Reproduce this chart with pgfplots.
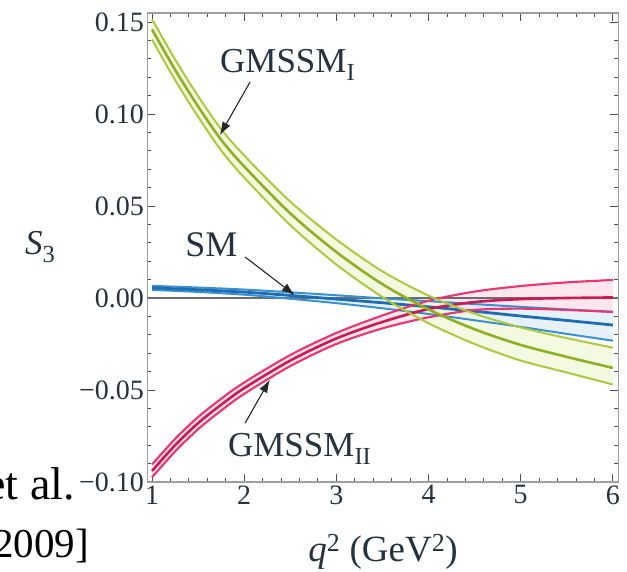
\documentclass[border=0pt]{standalone}
\usepackage{fontspec}
\setmainfont{Liberation Serif}
\usepackage{pgfplots}
\usepackage{pgfplotstable}
\pgfplotsset{compat=1.18}
\usepgfplotslibrary{fillbetween}
\usetikzlibrary{arrows.meta}
\definecolor{gedge}{HTML}{AEC83E}
\definecolor{gcen}{HTML}{90AF22}
\definecolor{gfill}{HTML}{F1F7DA}
\definecolor{bedge}{HTML}{3A90D0}
\definecolor{bcen}{HTML}{1C6DB2}
\definecolor{bfill}{HTML}{E0EEF9}
\definecolor{pedge}{HTML}{EB3470}
\definecolor{pcen}{HTML}{CC1A52}
\definecolor{pfill}{HTML}{FDE0EA}
\definecolor{tickc}{HTML}{26323E}

\pgfplotstableread{
x c u l
1.00 0.1460 0.1515 0.1405
1.25 0.1241 0.1297 0.1185
1.50 0.1041 0.1097 0.0985
1.75 0.0860 0.0918 0.0802
2.00 0.0715 0.0775 0.0655
2.50 0.0460 0.0524 0.0396
3.00 0.0250 0.0318 0.0182
3.50 0.0075 0.0145 0.0005
4.00 -0.0062 0.0013 -0.0137
4.50 -0.0170 -0.0085 -0.0250
5.00 -0.0255 -0.0160 -0.0340
5.50 -0.0320 -0.0218 -0.0405
6.00 -0.0380 -0.0270 -0.0470
}\gmI

\pgfplotstableread{
x c u l
1.00 0.0055 0.0066 0.0044
1.50 0.0045 0.0057 0.0033
2.00 0.0032 0.0046 0.0018
2.50 0.0014 0.0031 -0.0004
3.00 -0.0006 0.0015 -0.0028
3.50 -0.0026 -0.0002 -0.0056
4.00 -0.0048 -0.0017 -0.0087
4.50 -0.0072 -0.0033 -0.0121
5.00 -0.0098 -0.0048 -0.0157
5.50 -0.0122 -0.0062 -0.0195
6.00 -0.0147 -0.0075 -0.0232
}\sm

\pgfplotstableread{
x c u l
1.00 -0.0940 -0.0905 -0.0975
1.25 -0.0800 -0.0766 -0.0834
1.50 -0.0680 -0.0647 -0.0713
1.75 -0.0580 -0.0548 -0.0612
2.00 -0.0490 -0.0459 -0.0521
2.50 -0.0340 -0.0310 -0.0370
3.00 -0.0220 -0.0190 -0.0250
3.50 -0.0130 -0.0095 -0.0165
4.00 -0.0060 -0.0015 -0.0105
4.50 -0.0022 0.0035 -0.0065
5.00 -0.0006 0.0065 -0.0058
5.50 0.0000 0.0085 -0.0065
6.00 0.0003 0.0098 -0.0076
}\gmII

\begin{document}
\begin{tikzpicture}
\begin{axis}[
  at={(147.4pt,89pt)}, anchor=south west,
  scale only axis, width=471pt, height=469pt,
  xmin=0.95, xmax=6.06, ymin=-0.10, ymax=0.1549,
  xtick={1,2,3,4,5,6},
  ytick={-0.10,-0.05,0,0.05,0.10,0.15},
  yticklabels={−0.10,−0.05,0.00,0.05,0.10,0.15},
  minor x tick num=4, minor y tick num=4,
  tick align=inside,
  major tick length=8pt, minor tick length=4pt,
  axis line style={draw=gray!75, line width=1.5pt},
  every tick/.style={draw=gray!60!black, line width=0.9pt},
  tick label style={font=\fontsize{28}{30}\selectfont, text=tickc},
  /pgf/number format/assume math mode=true,
  clip=true,
]
% invisible edge paths
\addplot[draw=none, smooth, name path=bu, forget plot] table[x=x,y=u]{\sm};
\addplot[draw=none, smooth, name path=bl, forget plot] table[x=x,y=l]{\sm};
\addplot[draw=none, smooth, name path=pu, forget plot] table[x=x,y=u]{\gmII};
\addplot[draw=none, smooth, name path=pl, forget plot] table[x=x,y=l]{\gmII};
\addplot[draw=none, smooth, name path=gu, forget plot] table[x=x,y=u]{\gmI};
\addplot[draw=none, smooth, name path=gl, forget plot] table[x=x,y=l]{\gmI};
% fills
\addplot[bfill, fill opacity=0.8] fill between[of=bu and bl];
\addplot[pfill, fill opacity=0.8] fill between[of=pu and pl];
\addplot[gfill, fill opacity=0.8] fill between[of=gu and gl];
% zero line
\addplot[gray!85!black, line width=1.3pt] coordinates {(0.95,0) (6.06,0)};
% SM lines
\addplot[bedge, line width=2pt, smooth] table[x=x,y=u]{\sm};
\addplot[bedge, line width=2pt, smooth] table[x=x,y=l]{\sm};
\addplot[bcen, line width=2.8pt, smooth] table[x=x,y=c]{\sm};
% GMSSM II lines
\addplot[pedge, line width=2.1pt, smooth] table[x=x,y=u]{\gmII};
\addplot[pedge, line width=2.1pt, smooth] table[x=x,y=l]{\gmII};
\addplot[pcen, line width=2.6pt, smooth] table[x=x,y=c]{\gmII};
% GMSSM I lines
\addplot[gedge, line width=2pt, smooth] table[x=x,y=u]{\gmI};
\addplot[gedge, line width=2pt, smooth] table[x=x,y=l]{\gmI};
\addplot[gcen, line width=2.6pt, smooth] table[x=x,y=c]{\gmI};
% labels and arrows
\node[anchor=base west, inner sep=0pt, font=\fontsize{35}{38}\selectfont, text=tickc] at (axis cs:1.737,0.1223) {GMSSM\textsubscript{I}};
\draw[black!85, line width=1.1pt, -{Latex[length=13pt,width=9pt]}] (axis cs:2.064,0.1174) -- (axis cs:1.737,0.0886);
\node[anchor=base west, inner sep=0pt, font=\fontsize{36}{38}\selectfont, text=tickc] at (axis cs:1.359,0.0228) {SM};
\draw[black!85, line width=1.1pt, -{Latex[length=13pt,width=9pt]}] (axis cs:2.010,0.0223) -- (axis cs:2.548,0.0016);
\node[anchor=base west, inner sep=0pt, font=\fontsize{35}{38}\selectfont, text=tickc] at (axis cs:1.823,-0.0864) {GMSSM\textsubscript{II}};
\draw[black!85, line width=1.1pt, -{Latex[length=13pt,width=9pt]}] (axis cs:2.010,-0.0680) -- (axis cs:2.278,-0.0444);
\end{axis}
% axis labels
\node[anchor=base west, inner sep=0pt, font=\fontsize{35}{38}\selectfont, text=tickc] at (25pt,316pt) {\textit{S}\textsubscript{3}};
\node[anchor=base, inner sep=0pt, font=\fontsize{37}{40}\selectfont, text=tickc] at (383pt,10pt) {\textit{q}\textsuperscript{2} (GeV\textsuperscript{2})};
% citation fragments (cut off at the left edge, as in the reference)
\node[anchor=base east, inner sep=0pt, font=\fontsize{46}{50}\selectfont] at (75pt,72pt) {Altmannshofer et al.};
\node[anchor=base east, inner sep=0pt, font=\fontsize{41}{45}\selectfont] at (89pt,14pt) {[JHEP 2009]};
\pgfresetboundingbox
\path[use as bounding box] (0,0) rectangle (627pt,571pt);
\end{tikzpicture}
\end{document}
